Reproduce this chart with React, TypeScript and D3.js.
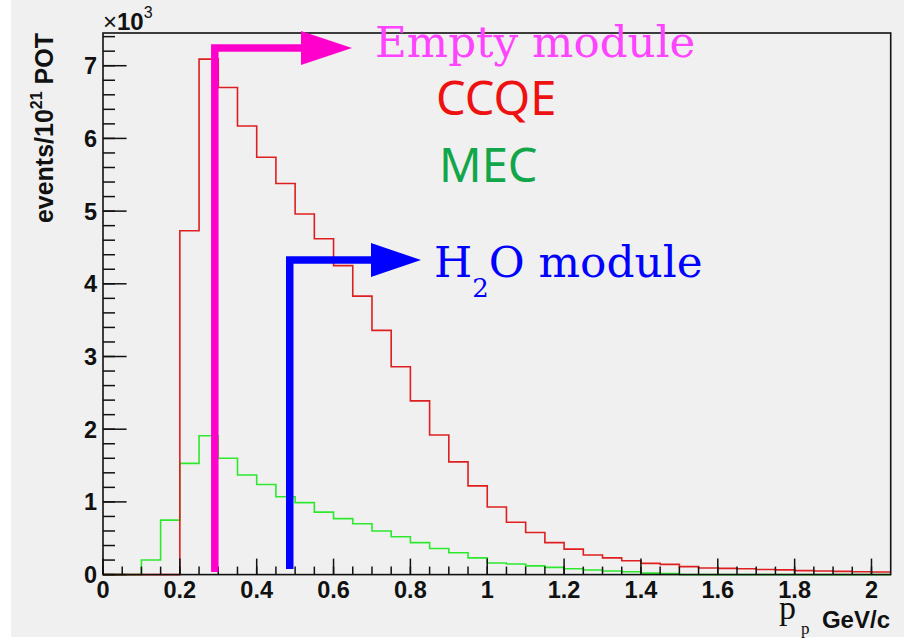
import React from "react";
import * as d3 from "d3";

// bin low edges: 0, 0.05, ..., 2.00 (bin width 0.05)
const binWidth = 0.05;
const ccqe = [
  0, 0, 0, 0, 4.73, 7.09, 6.7, 6.17, 5.74, 5.38, 4.96, 4.62, 4.25, 3.83, 3.36,
  2.86, 2.39, 1.92, 1.55, 1.22, 0.93, 0.72, 0.58, 0.44, 0.35, 0.27, 0.23, 0.19,
  0.155, 0.14, 0.11, 0.09, 0.085, 0.08, 0.07, 0.065, 0.055, 0.05, 0.045, 0.04, 0.035,
];
const mec = [
  0, 0, 0.2, 0.75, 1.53, 1.91, 1.6, 1.37, 1.24, 1.07, 0.99, 0.86, 0.77, 0.7, 0.6,
  0.52, 0.44, 0.36, 0.3, 0.23, 0.16, 0.145, 0.12, 0.1, 0.08, 0.063, 0.05, 0.04,
  0.02, 0.015, 0, 0, 0, 0, 0, 0, 0, 0, 0, 0, 0,
];
const xTickLabels = ["0", "0.2", "0.4", "0.6", "0.8", "1", "1.2", "1.4", "1.6", "1.8", "2"];
const yTickLabels = ["0", "1", "2", "3", "4", "5", "6", "7"];
const emptyModuleX = 0.291;
const h2oModuleX = 0.486;

const W = 904;
const H = 638;
const L = 103;
const R = 890.7;
const T = 33;
const B = 574.6;

export default function App() {
  const x = d3.scaleLinear().domain([0, 2.05]).range([L, R]);
  const y = d3.scaleLinear().domain([0, 7.45]).range([B, T]);

  const histPath = (vals: number[]) => {
    const pts: [number, number][] = vals.map((v, i) => [i * binWidth, v]);
    pts.push([vals.length * binWidth, vals[vals.length - 1]]);
    return d3
      .line<[number, number]>()
      .x((d) => x(d[0]))
      .y((d) => y(d[1]))
      .curve(d3.curveStepAfter)(pts) as string;
  };

  const xMajor = xTickLabels.map((t) => +t);
  const xMinor = d3.range(0, 41).map((i) => i * 0.05);
  const yMajor = yTickLabels.map((t) => +t);
  const yMinor = d3.range(0, 38).map((i) => i * 0.2).filter((v) => v <= 7.45);

  const sans = "'Liberation Sans', Arial, Helvetica, sans-serif";
  const serif = "'Liberation Serif', 'Times New Roman', serif";
  const mx = x(emptyModuleX);
  const bx = x(h2oModuleX);

  return (
    <svg
      width={W}
      height={H}
      style={{ position: "absolute", left: 0, top: 0 }}
      xmlns="http://www.w3.org/2000/svg"
    >
      <rect x={0} y={0} width={W} height={H} fill="#ffffff" />
      <rect x={11} y={0} width={W - 11} height={637} fill="#f0f0f0" />

      {/* histograms */}
      <path d={histPath(mec)} fill="none" stroke="#2ee82e" strokeWidth={1.6} />
      <path d={histPath(ccqe)} fill="none" stroke="#dd1f1f" strokeWidth={1.6} />

      {/* frame */}
      <rect x={L} y={T} width={R - L} height={B - T} fill="none" stroke="#111" strokeWidth={1.6} />

      {/* x ticks */}
      {xMinor.map((v, i) => (
        <line key={"xm" + i} x1={x(v)} x2={x(v)} y1={B} y2={B - 8} stroke="#111" strokeWidth={1.5} />
      ))}
      {xMajor.map((v, i) => (
        <line key={"xM" + i} x1={x(v)} x2={x(v)} y1={B} y2={B - 16} stroke="#111" strokeWidth={1.5} />
      ))}
      {xTickLabels.map((t, i) => (
        <text
          key={"xl" + i}
          x={x(+t)}
          y={598}
          textAnchor="middle"
          fontFamily={sans}
          fontWeight="bold"
          fontSize={23.5}
          fill="#111"
        >
          {t}
        </text>
      ))}

      {/* y ticks */}
      {yMinor.map((v, i) => (
        <line key={"ym" + i} x1={L} x2={L + 12} y1={y(v)} y2={y(v)} stroke="#111" strokeWidth={1.5} />
      ))}
      {yMajor.map((v, i) => (
        <line key={"yM" + i} x1={L} x2={L + 23.6} y1={y(v)} y2={y(v)} stroke="#111" strokeWidth={1.5} />
      ))}
      {yTickLabels.map((t, i) => (
        <text
          key={"yl" + i}
          x={97}
          y={y(+t)}
          dy="0.36em"
          textAnchor="end"
          fontFamily={sans}
          fontWeight="bold"
          fontSize={23.5}
          fill="#111"
        >
          {t}
        </text>
      ))}

      {/* exponent */}
      <text x={103} y={30} fontFamily={sans} fontSize={24} fill="#111">
        <tspan>×</tspan>
        <tspan fontWeight="bold">10</tspan>
        <tspan fontSize={16} dy={-12}>3</tspan>
      </text>

      {/* y title */}
      <text
        transform={`translate(53,${T}) rotate(-90)`}
        textAnchor="end"
        fontFamily={sans}
        fontWeight="bold"
        fontSize={25}
        fill="#111"
      >
        <tspan>events/10</tspan>
        <tspan fontSize={16} dy={-11}>21</tspan>
        <tspan dy={11}> POT</tspan>
      </text>

      {/* x title */}
      <text x={779} y={619} fontFamily={serif} fontSize={34} fill="#111">
        p
      </text>
      <text x={801} y={634} fontFamily={serif} fontSize={17} fill="#111">
        p
      </text>
      <text x={890} y={628} textAnchor="end" fontFamily={sans} fontWeight="bold" fontSize={24} fill="#111">
        GeV/c
      </text>

      {/* Empty module arrow */}
      <path
        d={`M${mx},${572} V48 H303`}
        fill="none"
        stroke="#ff00cc"
        strokeWidth={7.5}
        strokeLinejoin="miter"
      />
      <path d={`M301,31 L352,48 L301,65 Z`} fill="#ff00cc" />
      <text x={375} y={57} fontFamily="'DejaVu Serif', serif" fontSize={43.6} fill="#ff44ff">
        Empty module
      </text>

      {/* H2O module arrow */}
      <path d={`M${bx},${569} V260 H372`} fill="none" stroke="#0000ff" strokeWidth={7.5} />
      <path d={`M371,243 L421,260 L371,277 Z`} fill="#0000ff" />
      <text x={434} y={277} fontFamily="'DejaVu Serif', serif" fontSize={43.8} fill="#0000ff">
        <tspan>H</tspan>
        <tspan fontSize={26} dy={20}>2</tspan>
        <tspan dy={-20}>O module</tspan>
      </text>

      {/* legend text */}
      <text x={436} y={115} fontFamily="'Noto Sans', sans-serif" fontSize={47} fill="#ee1111">
        CCQE
      </text>
      <text x={439} y={182} fontFamily="'Noto Sans', sans-serif" fontSize={47} fill="#12a64a">
        MEC
      </text>
    </svg>
  );
}
